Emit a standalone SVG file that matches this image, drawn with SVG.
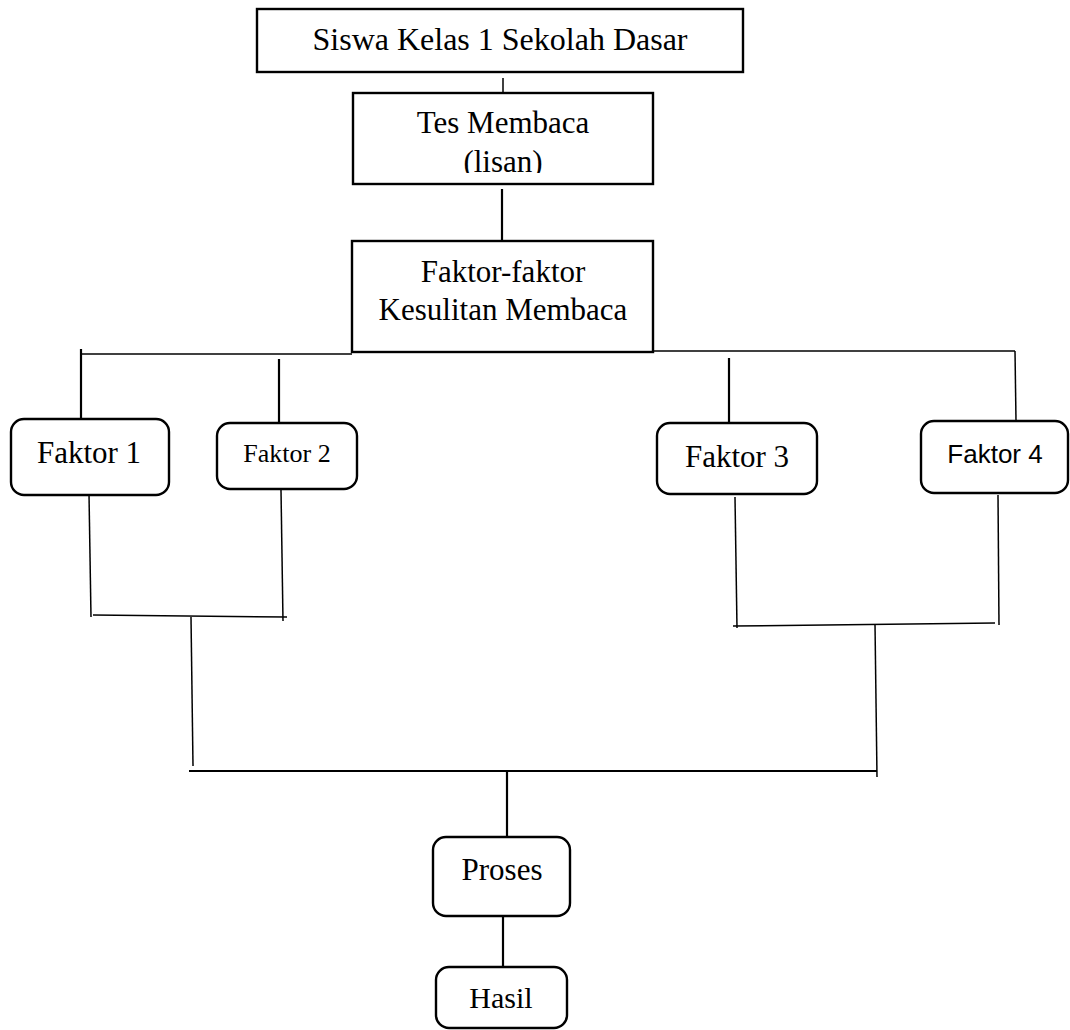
<svg xmlns="http://www.w3.org/2000/svg" width="1070" height="1030" viewBox="0 0 1070 1030">
<defs>
<style>
.box{fill:#fff;stroke:#000;stroke-width:2.4}
.rbox{fill:#fff;stroke:#000;stroke-width:2.4}
.t{font-family:"Liberation Serif","Times New Roman",serif;fill:#000;text-anchor:middle}
.s{font-family:"Liberation Sans",Arial,sans-serif;fill:#000;text-anchor:middle}
.c{fill:none;stroke:#000;stroke-width:1.5}
.ct{fill:none;stroke:#000;stroke-width:2.2}
</style>
<clipPath id="clipLisan"><rect x="353" y="93" width="300" height="80"/></clipPath>
</defs>
<rect width="1070" height="1030" fill="#fff"/>
<g id="connectors">
<line class="c" x1="503" y1="78" x2="503" y2="93"/>
<line class="ct" x1="502" y1="189" x2="502" y2="241"/>
<line class="c" x1="81" y1="354" x2="352" y2="354"/>
<line class="c" x1="653" y1="351" x2="1015" y2="351"/>
<line class="ct" x1="81" y1="349" x2="81" y2="419"/>
<line class="ct" x1="279" y1="359" x2="279" y2="423"/>
<line class="ct" x1="729" y1="358" x2="729" y2="423"/>
<line class="c" x1="1015" y1="351" x2="1016" y2="421"/>
<line class="c" x1="89" y1="494" x2="91" y2="617"/>
<line class="c" x1="281" y1="490" x2="283" y2="621"/>
<line class="c" x1="93" y1="615" x2="287" y2="617"/>
<line class="c" x1="191" y1="617" x2="193" y2="766"/>
<line class="c" x1="735" y1="497" x2="737" y2="628"/>
<line class="c" x1="998" y1="495" x2="999" y2="625"/>
<line class="c" x1="733" y1="626" x2="995" y2="623"/>
<line class="c" x1="875" y1="624" x2="877" y2="777"/>
<line class="ct" x1="189" y1="771" x2="877" y2="771"/>
<line class="ct" x1="507" y1="771" x2="507" y2="837"/>
<line class="ct" x1="503" y1="911" x2="503" y2="967"/>
</g>
<g id="node-siswa">
<rect class="box" x="257" y="9" width="486" height="63"/>
<text class="t" x="500" y="50" font-size="32">Siswa Kelas 1 Sekolah Dasar</text>
</g>
<g id="node-tes">
<rect class="box" x="353" y="93" width="300" height="91"/>
<text class="t" x="503" y="133" font-size="31">Tes Membaca</text>
<text class="t" x="503" y="172" font-size="31" clip-path="url(#clipLisan)">(lisan)</text>
</g>
<g id="node-faktorfaktor">
<rect class="box" x="352" y="241" width="301" height="111"/>
<text class="t" x="503" y="282" font-size="31">Faktor-faktor</text>
<text class="t" x="503" y="320" font-size="31">Kesulitan Membaca</text>
</g>
<g id="node-faktor1">
<rect class="rbox" x="11" y="419" width="158" height="76" rx="13"/>
<text class="t" x="89" y="463" font-size="31">Faktor 1</text>
</g>
<g id="node-faktor2">
<rect class="rbox" x="217" y="423" width="140" height="66" rx="13"/>
<text class="t" x="287" y="462" font-size="26">Faktor 2</text>
</g>
<g id="node-faktor3">
<rect class="rbox" x="657" y="423" width="160" height="71" rx="13"/>
<text class="t" x="737" y="467" font-size="31">Faktor 3</text>
</g>
<g id="node-faktor4">
<rect class="rbox" x="921" y="421" width="147" height="72" rx="13"/>
<text class="s" x="995" y="463" font-size="26">Faktor 4</text>
</g>
<g id="node-proses">
<rect class="rbox" x="433" y="837" width="137" height="79" rx="13"/>
<text class="t" x="502" y="880" font-size="31">Proses</text>
</g>
<g id="node-hasil">
<rect class="rbox" x="436" y="967" width="131" height="61" rx="13"/>
<text class="t" x="501" y="1008" font-size="30">Hasil</text>
</g>
</svg>
